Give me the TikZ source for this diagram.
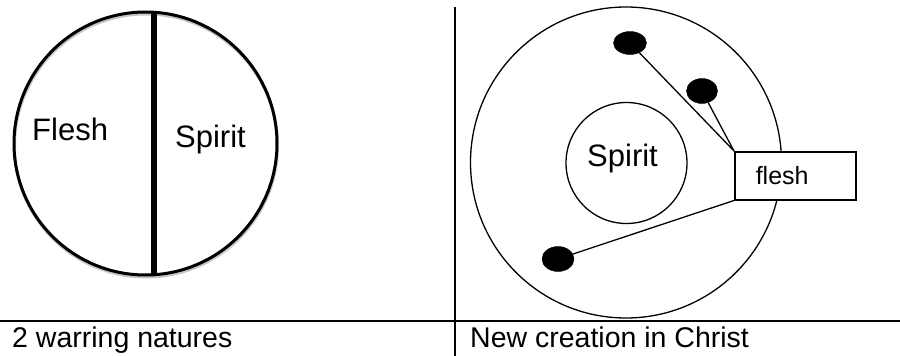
\documentclass[tikz,border=0pt]{standalone}
\usepackage{fontspec}
\setmainfont{Liberation Sans}
\usetikzlibrary{shapes.geometric}
\tikzset{
  big/.style={inner sep=0pt, anchor=base west, font=\fontsize{31}{36}\selectfont},
  caption/.style={inner sep=0pt, anchor=base west, font=\fontsize{28.5}{34}\selectfont},
  blob/.style={ellipse, fill=black, draw=black, inner sep=0pt},
  thinline/.style={line width=1.3pt},
  rule/.style={line width=1.8pt},
}
\begin{document}
\begin{tikzpicture}[x=1pt,y=-1pt]
\useasboundingbox (0,0) rectangle (900,356);
% left panel
\draw[gray!45, line width=3pt] (146,145.5) circle[radius=131.5];
\node[circle, draw, line width=3pt, minimum size=263pt, inner sep=0pt] (natures) at (145.5,143.5) {};
\draw[line width=6pt] (154,12) -- (154,276);
\node[big] (fleshL) at (32,140) {Flesh};
\node[big] (spiritL) at (175,147) {Spirit};
% rules
\draw[rule] (0,321) -- (900,321);
\draw[line width=1.5pt] (455,7) -- (455,356);
\node[caption] (capL) at (12,347) {2 warring natures};
\node[caption] (capR) at (470,347) {New creation in Christ};
% right panel
\node[circle, draw, thinline, minimum size=311pt, inner sep=0pt] (newc) at (626,162.5) {};
\node[circle, draw, thinline, minimum size=121pt, inner sep=0pt] (spc) at (626.5,163) {};
\node[big] (spiritR) at (587,166) {Spirit};
\node[draw, line width=1.5pt, fill=white, anchor=north west, minimum height=48pt,
      text width=79pt, inner xsep=21pt, inner ysep=0pt, align=left,
      font=\fontsize{25}{30}\selectfont] (fbox) at (734,151) {flesh};
\node[blob, minimum width=33pt, minimum height=23pt] (d1) at (630,43) {};
\node[blob, minimum width=31pt, minimum height=25pt] (d2) at (702,91) {};
\node[blob, minimum width=32pt, minimum height=25pt] (d3) at (558,259) {};
\draw[thinline] (d1) -- (fbox.north west);
\draw[thinline] (d2) -- (fbox.north west);
\draw[thinline] (d3) -- (fbox.south west);
\end{tikzpicture}
\end{document}
